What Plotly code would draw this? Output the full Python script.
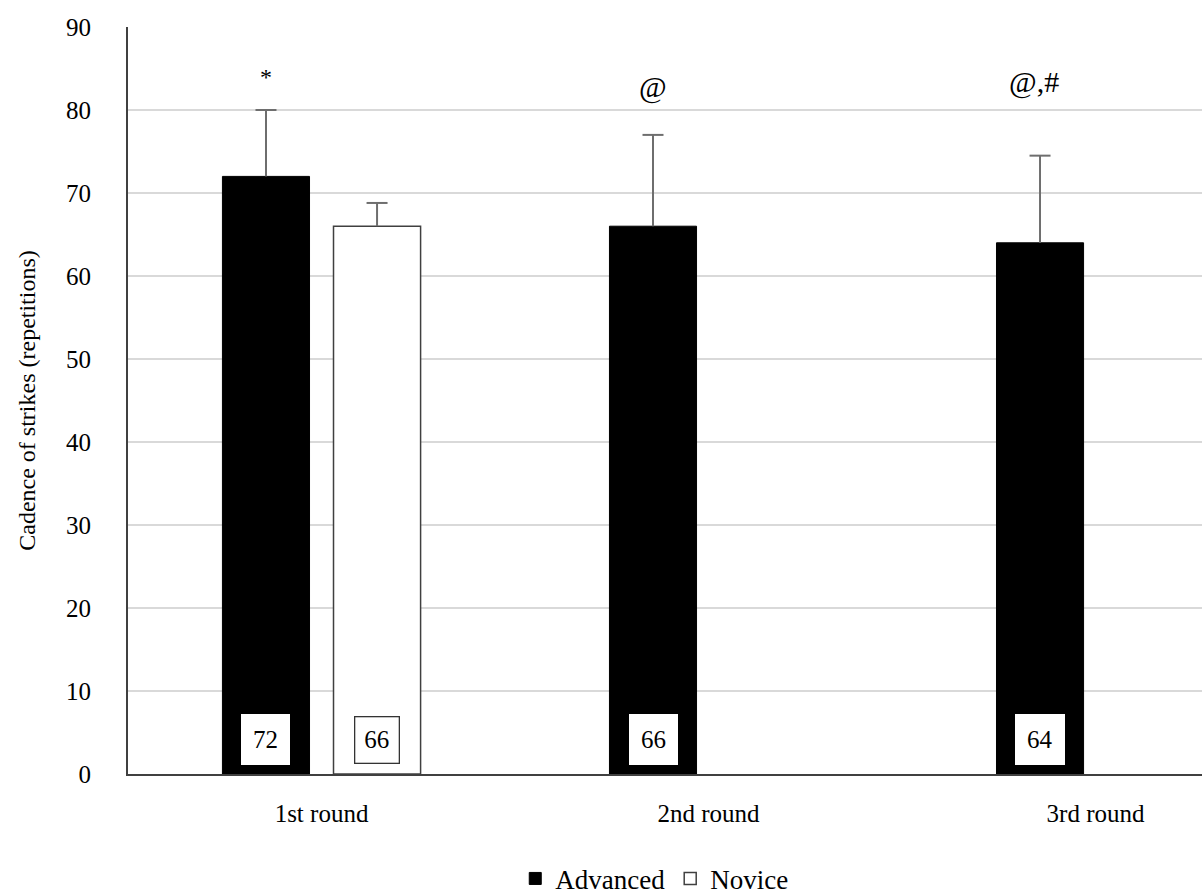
import plotly.graph_objects as go

# Mean cadence of strikes per round, with standard deviations
rounds = ["1st round", "2nd round", "3rd round"]
advanced_mean = [72, 66, 64]
advanced_sd = [8, 11, 10.5]
novice_rounds = ["1st round"]
novice_mean = [66]
novice_sd = [2.8]

# Significance marks above the Advanced bars
sig_marks = ["*", "@", "@,#"]
sig_y = [84.0, 82.8, 83.4]
sig_size = [24, 30, 30]

FONT = "Liberation Serif, Times New Roman, serif"
pos = {r: i for i, r in enumerate(rounds)}

BARGAP = 0.426
BARGROUPGAP = 0.216
slot = (1 - BARGAP) / 2  # width of one bar slot in category units
ERR_COLOR = "#6e6e6e"

adv_x = [pos[r] for r in rounds]
nov_x = [pos[r] for r in novice_rounds]

fig = go.Figure()
fig.add_trace(go.Bar(
    name="Advanced", x=adv_x, y=advanced_mean,
    marker=dict(color="black", line=dict(color="black", width=1)),
))
fig.add_trace(go.Bar(
    name="Novice", x=nov_x + [1, 2], y=novice_mean + [None, None],
    marker=dict(color="white", line=dict(color="#404040", width=1.5)),
))

# Upper error whiskers: stem from the bar top, cap at mean + SD
def whiskers(xs, means, sds, shift):
    xs = [x + shift for x in xs]
    tops = [m + s for m, s in zip(means, sds)]
    fig.add_trace(go.Scatter(
        x=xs, y=tops, mode="markers", showlegend=False, hoverinfo="skip",
        marker=dict(symbol="line-ew", size=15, color=ERR_COLOR,
                    line=dict(color=ERR_COLOR, width=2)),
        error_y=dict(type="data", symmetric=False, array=[0] * len(sds),
                     arrayminus=sds, color=ERR_COLOR, thickness=2, width=0),
    ))

whiskers(adv_x, advanced_mean, advanced_sd, -slot / 2)
whiskers(nov_x, novice_mean, novice_sd, slot / 2)

# Value boxes at the bottom of each bar
for x, v in zip(adv_x, advanced_mean):
    fig.add_annotation(x=x - slot / 2, y=4.1, text=str(v), showarrow=False,
                       font=dict(family=FONT, size=25, color="black"),
                       bgcolor="white", borderwidth=0, borderpad=12)
for x, v in zip(nov_x, novice_mean):
    fig.add_annotation(x=x + slot / 2, y=4.1, text=str(v), showarrow=False,
                       font=dict(family=FONT, size=25, color="black"),
                       bgcolor="white", bordercolor="#333333", borderwidth=1.3,
                       borderpad=9)

# Significance symbols
for x, m, yy, s in zip(adv_x, sig_marks, sig_y, sig_size):
    fig.add_annotation(x=x - slot / 2 - (0.015 if m == "@,#" else 0), y=yy,
                       text=m, showarrow=False,
                       font=dict(family=FONT, size=s, color="black"))

fig.update_layout(
    width=1202, height=895,
    margin=dict(l=128, r=0, t=27, b=121, autoexpand=False),
    paper_bgcolor="white", plot_bgcolor="white",
    barmode="group", bargap=BARGAP, bargroupgap=BARGROUPGAP,
    font=dict(family=FONT, size=24, color="black"),
    showlegend=True,
    legend=dict(orientation="h", x=0.49, xanchor="center",
                yref="container", y=0.018, yanchor="middle",
                font=dict(family=FONT, size=27, color="black"),
                itemwidth=30, traceorder="normal"),
)
fig.update_xaxes(
    range=[-0.5, 2.275],
    tickmode="array", tickvals=list(range(len(rounds))), ticktext=rounds,
    showgrid=False, showline=True, linecolor="#404040", linewidth=2,
    ticks="", ticklabelstandoff=16, zeroline=False,
    tickfont=dict(family=FONT, size=25),
)
fig.update_yaxes(
    range=[0, 90], dtick=10,
    showgrid=True, gridcolor="#d9d9d9", gridwidth=1.5,
    showline=True, linecolor="#404040", linewidth=2,
    ticks="", ticklabelstandoff=30, zeroline=False,
    tickfont=dict(family=FONT, size=25),
    title=dict(text="Cadence of strikes (repetitions)",
               font=dict(family=FONT, size=24), standoff=24),
)

fig.write_html("out.html")
